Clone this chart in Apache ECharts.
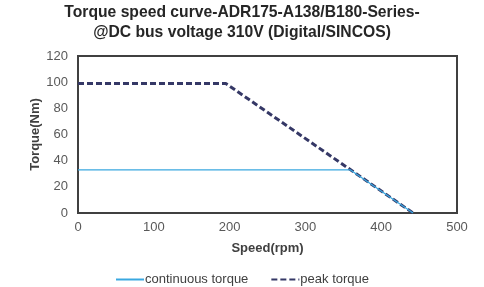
<!DOCTYPE html>
<html>
<head>
<meta charset="utf-8">
<script src="https://cdn.jsdelivr.net/npm/echarts@6/dist/echarts.min.js"></script>
<style>
  html, body { margin: 0; padding: 0; background: #fff; }
  #chart { width: 484px; height: 287px; }
</style>
</head>
<body>
<div id="chart"></div>
<script>
// values
var contSpeed = [0, 359, 442];
var contTorque = [33, 33, 0];
var peakSpeed = [0, 195, 442];
var peakTorque = [99, 99, 0];
var xTicks = [0, 100, 200, 300, 400, 500];
var yTicks = [0, 20, 40, 60, 80, 100, 120];

function pairs(xs, ys) {
    return xs.map(function (x, i) { return [x, ys[i]]; });
}

var myChart = echarts.init(document.getElementById('chart'));
var font = 'Liberation Sans, Arial, sans-serif';

var option = {
    animation: false,
    title: {
        text: 'Torque speed curve-ADR175-A138/B180-Series-\n@DC bus voltage 310V (Digital/SINCOS)',
        left: 'center',
        top: -2,
        textStyle: {
            fontFamily: font,
            fontSize: 15.7,
            fontWeight: 'bold',
            color: '#262626',
            lineHeight: 20
        }
    },
    legend: {
        top: 268,
        left: 'center',
        itemWidth: 28,
        itemGap: 22,
        itemStyle: { opacity: 0 },
        textStyle: { fontFamily: font, fontSize: 13, color: '#404040', padding: [0, 0, 0, -4] },
        data: ['continuous torque', 'peak torque']
    },
    grid: {
        left: 78,
        right: 27,
        top: 56,
        bottom: 74,
        show: true,
        borderColor: '#404040',
        borderWidth: 2
    },
    xAxis: {
        type: 'value',
        min: xTicks[0],
        max: xTicks[xTicks.length - 1],
        interval: 100,
        name: 'Speed(rpm)',
        nameLocation: 'middle',
        nameGap: 29,
        nameMoveOverlap: false,
        nameTextStyle: { fontFamily: font, fontSize: 13, fontWeight: 'bold', color: '#404040' },
        axisLine: { show: true, lineStyle: { color: '#404040', width: 2 } },
        axisTick: { show: false },
        splitLine: { show: false },
        axisLabel: { fontFamily: font, fontSize: 13, color: '#595959', margin: 8 }
    },
    yAxis: {
        type: 'value',
        min: yTicks[0],
        max: yTicks[yTicks.length - 1],
        interval: 20,
        name: 'Torque(Nm)',
        nameLocation: 'middle',
        nameGap: 36,
        nameMoveOverlap: false,
        nameTextStyle: { fontFamily: font, fontSize: 13, fontWeight: 'bold', color: '#404040' },
        axisLine: { show: true, lineStyle: { color: '#404040', width: 2 } },
        axisTick: { show: false },
        splitLine: { show: false },
        axisLabel: { fontFamily: font, fontSize: 13, color: '#595959', margin: 10 }
    },
    series: [{
        name: 'continuous torque',
        type: 'line',
        data: pairs(contSpeed, contTorque),
        symbol: 'none',
        lineStyle: { color: '#3aa8e0', width: 1.3 },
        itemStyle: { color: '#3aa8e0' },
        z: 3
    }, {
        name: 'peak torque',
        type: 'line',
        data: pairs(peakSpeed, peakTorque),
        symbol: 'none',
        lineStyle: { color: '#353866', width: 3, type: [6, 3] },
        itemStyle: { color: '#353866' },
        z: 2
    }]
};

myChart.setOption(option);
</script>
</body>
</html>
